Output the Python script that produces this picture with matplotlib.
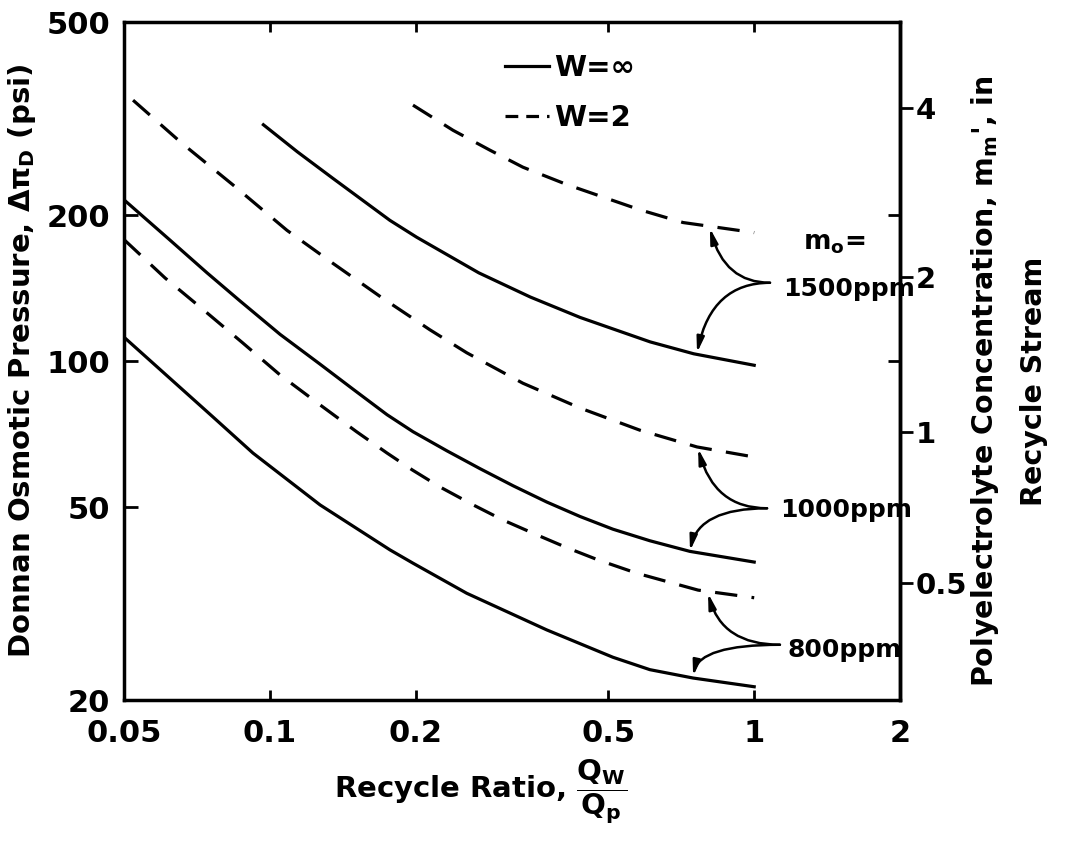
import numpy as np
import matplotlib
matplotlib.use("Agg")
import matplotlib.pyplot as plt
from matplotlib.lines import Line2D
from matplotlib.ticker import FixedLocator, NullLocator, NullFormatter

# recycle ratio Qw/Qp and Donnan osmotic pressure (psi)
# W = infinity (solid)
x_1500_inf = [0.097, 0.114, 0.135, 0.177, 0.201, 0.27, 0.345, 0.437, 0.61, 0.75, 1.0]
y_1500_inf = [307, 270, 238, 195, 180, 152, 135.5, 123, 109.5, 103.5, 98]
x_1000_inf = [0.05, 0.0622, 0.0742, 0.0868, 0.105, 0.127, 0.1485, 0.1746, 0.1975,
              0.232, 0.2715, 0.318, 0.373, 0.437, 0.511, 0.609, 0.737, 1.0]
y_1000_inf = [215, 177.6, 152, 133, 113.5, 98.5, 87.5, 77.5, 71.5,
              65.3, 60, 55.3, 51.2, 47.8, 45, 42.6, 40.5, 38.5]
x_800_inf = [0.05, 0.0763, 0.0923, 0.127, 0.177, 0.1975, 0.255, 0.373, 0.511, 0.609, 0.748, 1.0]
y_800_inf = [112, 76.7, 64.6, 50.5, 40.8, 38.3, 33.2, 27.9, 24.5, 23.1, 22.2, 21.3]

# W = 2 (dashed)
x_1500_w2 = [0.1975, 0.239, 0.285, 0.333, 0.411, 0.581, 0.713, 1.0]
y_1500_w2 = [337, 299, 272, 251, 231, 205, 193, 184]
x_1000_w2 = [0.0522, 0.0659, 0.084, 0.1085, 0.135, 0.1705, 0.214, 0.255, 0.333,
             0.437, 0.581, 0.762, 1.0]
y_1000_w2 = [345, 281, 230.6, 186, 159, 135, 116, 104, 90, 80, 72, 66.5, 63.4]
x_800_w2 = [0.05, 0.0608, 0.0718, 0.088, 0.105, 0.127, 0.151, 0.1746, 0.197, 0.2245,
            0.263, 0.303, 0.356, 0.411, 0.476, 0.573, 0.766, 1.0]
y_800_w2 = [178, 148.3, 129.2, 108.9, 93.6, 81.2, 71.5, 64.6, 59.6, 55,
            50.5, 47, 43.8, 41.2, 38.9, 36.5, 33.7, 32.5]

x_ticks = [0.05, 0.1, 0.2, 0.5, 1, 2]
x_ticklabels = ["0.05", "0.1", "0.2", "0.5", "1", "2"]
y_ticks = [20, 50, 100, 200, 500]
y_ticklabels = ["20", "50", "100", "200", "500"]

# right axis: polyelectrolyte concentration ticks and the pressure they sit at
m_ticks = [0.5, 1, 2, 4]
m_tick_p = [34.9, 71.4, 149, 332]

# m0 labels: (text, label x, label y, tail x, tail y, dashed target, solid target)
feeds = [
    ("1500ppm", 1.147, 141, 1.078, 145, (0.81, 188), (0.762, 104)),
    ("1000ppm", 1.13, 49.3, 1.063, 49.7, (0.766, 66), (0.737, 40.6)),
    ("800ppm", 1.17, 25.4, 1.13, 26.0, (0.803, 33.2), (0.748, 22.4)),
]

plt.rcParams["font.family"] = "DejaVu Sans"
plt.rcParams["font.weight"] = "bold"
plt.rcParams["axes.labelweight"] = "bold"
plt.rcParams["mathtext.fontset"] = "dejavusans"
plt.rcParams["mathtext.default"] = "bf"

fig = plt.figure(figsize=(10.67, 8.44), dpi=100)
ax = fig.add_axes([0.1162, 0.1706, 0.7273, 0.8033])
ax.set_xscale("log")
ax.set_yscale("log")
ax.set_xlim(0.05, 2)
ax.set_ylim(20, 500)

lw = 2.3
dash = (7.0, 4.5)
ax.plot(x_1500_inf, y_1500_inf, color="k", lw=lw)
ax.plot(x_1000_inf, y_1000_inf, color="k", lw=lw)
ax.plot(x_800_inf, y_800_inf, color="k", lw=lw)
ax.plot(x_1500_w2, y_1500_w2, color="k", lw=lw, dashes=dash)
ax.plot(x_1000_w2, y_1000_w2, color="k", lw=lw, dashes=dash)
ax.plot(x_800_w2, y_800_w2, color="k", lw=lw, dashes=dash)

handles = [Line2D([], [], color="k", lw=lw),
           Line2D([], [], color="k", lw=lw, dashes=(4.0, 2.5))]
ax.legend(handles, ["W=\u221e", "W=2"], loc="upper left",
          bbox_to_anchor=(0.4733, 0.9355), bbox_transform=fig.transFigure,
          frameon=False, prop={"size": 21, "weight": "bold"}, handlelength=1.5,
          handletextpad=0.2, borderpad=0, borderaxespad=0, labelspacing=0.75)

# axes styling
for s in ax.spines.values():
    s.set_linewidth(2.5)
ax.xaxis.set_major_locator(FixedLocator(x_ticks))
ax.xaxis.set_minor_locator(NullLocator())
ax.set_xticklabels(x_ticklabels)
ax.yaxis.set_major_locator(FixedLocator(y_ticks))
ax.yaxis.set_minor_locator(NullLocator())
ax.set_yticklabels(y_ticklabels)
ax.tick_params(axis="x", which="major", direction="in", top=True, bottom=True,
               length=7, width=2, labelsize=22, pad=14)
ax.tick_params(axis="y", which="major", direction="in", left=True, right=False,
               length=10, width=2, labelsize=22, pad=10)

# right axis mapped through the tick positions
lp_a = np.log10(m_tick_p)
lm_a = np.log10(m_ticks)


def _pw(v, xa, ya):
    v = np.log10(np.clip(np.asarray(v, dtype=float), 1e-9, None))
    out = np.interp(v, xa, ya)
    s0 = (ya[1] - ya[0]) / (xa[1] - xa[0])
    s1 = (ya[-1] - ya[-2]) / (xa[-1] - xa[-2])
    out = np.where(v < xa[0], ya[0] + (v - xa[0]) * s0, out)
    out = np.where(v > xa[-1], ya[-1] + (v - xa[-1]) * s1, out)
    return 10 ** out


def p_to_m(p):
    return _pw(p, lp_a, lm_a)


def m_to_p(m):
    return _pw(m, lm_a, lp_a)


sec = ax.secondary_yaxis("right", functions=(p_to_m, m_to_p))
sec.spines["right"].set_linewidth(2.5)
sec.set_yticks(m_ticks)
sec.set_yticklabels(["0.5", "1", "2", "4"])
sec.yaxis.set_minor_locator(FixedLocator(list(p_to_m([100, 200]))))
sec.yaxis.set_minor_formatter(NullFormatter())
sec.tick_params(axis="y", which="major", direction="out", length=9, width=2,
                labelsize=21, pad=2)
sec.tick_params(axis="y", which="minor", direction="in", length=9, width=2)

ax.set_ylabel(r"Donnan Osmotic Pressure, $\Delta\pi_D$ (psi)", fontsize=21, labelpad=6)
ax.set_xlabel(r"Recycle Ratio, $\dfrac{Q_W}{Q_p}$", fontsize=21)
ax.xaxis.set_label_coords(0.459, -0.085)
fig.text(0.945, 1 - 381 / 844, "Polyelectrolyte Concentration, m$_m$', in\nRecycle Stream",
         rotation=90, ha="center", va="center", multialignment="center", fontsize=20.5,
         linespacing=1.85)

# m0 annotations with curved arrows
ax.text(1.26, 175, "m$_o$=", fontsize=19, ha="left", va="center")
for name, lx, ly, tx, ty, tgt_d, tgt_s in feeds:
    ax.text(lx, ly, name, fontsize=18, ha="left", va="center")
    for tgt, ang in ((tgt_d, 105), (tgt_s, 78)):
        ax.annotate("", xy=tgt, xytext=(tx, ty),
                    arrowprops=dict(arrowstyle="-|>,head_length=0.9,head_width=0.22",
                                    connectionstyle="angle3,angleA=0,angleB=%d" % ang,
                                    color="k", lw=1.8, shrinkA=0, shrinkB=0))

fig.savefig("out.png", dpi=100)
